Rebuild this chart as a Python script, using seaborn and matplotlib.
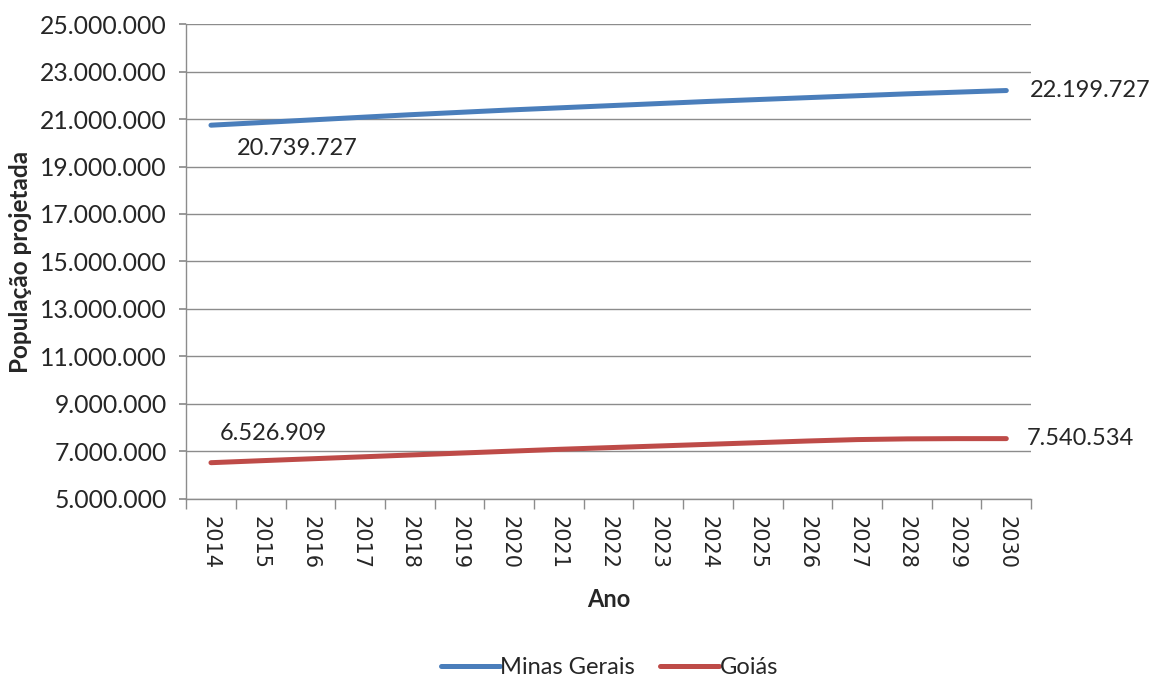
import matplotlib.pyplot as plt
import seaborn as sns
import pandas as pd
from matplotlib.ticker import FuncFormatter

# dados (valores intermediarios estimados)
anos = list(range(2014, 2031))
minas_gerais = [20739727, 20850000, 20960000, 21070000, 21180000, 21280000,
                21380000, 21470000, 21560000, 21650000, 21740000, 21820000,
                21900000, 21980000, 22060000, 22130000, 22199727]
goias = [6526909, 6610000, 6690000, 6770000, 6850000, 6930000, 7010000,
         7090000, 7160000, 7230000, 7300000, 7370000, 7440000, 7500000,
         7530000, 7540000, 7540534]
series = ['Minas Gerais', 'Goiás']
cores = {'Minas Gerais': '#4A7EBB', 'Goiás': '#BE4B48'}

df = pd.DataFrame({'Ano': anos * 2,
                   'Populacao': minas_gerais + goias,
                   'Estado': [series[0]] * len(anos) + [series[1]] * len(anos)})

sns.set_theme(style='white')
plt.rcParams['font.family'] = ['Lato', 'DejaVu Sans']

fig = plt.figure(figsize=(11.56, 6.77), dpi=100)
ax = fig.add_axes([0.161, 0.263, 0.731, 0.7015])

sns.lineplot(data=df, x='Ano', y='Populacao', hue='Estado', palette=cores,
             linewidth=3.6, ax=ax, legend=False)
for ln in ax.get_lines():
    ln.set_solid_capstyle('round')

ax.set_xlim(2013.5, 2030.5)
ax.set_ylim(5000000, 25000000)
ax.set_yticks(range(5000000, 25000001, 2000000))
ax.yaxis.set_major_formatter(FuncFormatter(lambda v, p: f'{int(v):,}'.replace(',', '.')))
ax.grid(axis='y', color='#8c8c8c', linewidth=1)
ax.set_axisbelow(True)

ax.set_xticks(anos)
ax.set_xticklabels([str(a) for a in anos], rotation=270, fontsize=15,
                   family='DejaVu Sans')
ax.set_xticks([a - 0.5 for a in anos] + [2030.5], minor=True)
ax.tick_params(axis='x', which='major', length=0, pad=12)
ax.tick_params(axis='x', which='minor', length=7, color='#8c8c8c', direction='out')
ax.tick_params(axis='y', length=5, color='#8c8c8c', direction='out', labelsize=17.8, pad=9)
ax.tick_params(axis='x', bottom=True, which='both')
ax.tick_params(axis='y', left=True)

for s in ['top', 'right']:
    ax.spines[s].set_visible(False)
for s in ['left', 'bottom']:
    ax.spines[s].set_color('#8c8c8c')
    ax.spines[s].set_linewidth(1)

ax.set_xlabel('Ano', fontsize=17, fontweight='bold', labelpad=14)
ax.set_ylabel('População projetada', fontsize=17.5, fontweight='bold', labelpad=6)

def fmt(v):
    return f'{v:,}'.replace(',', '.')

ax.annotate(fmt(minas_gerais[0]), (anos[0], minas_gerais[0]), xytext=(19, -17),
            textcoords='offset points', fontsize=17, va='center', ha='left')
ax.annotate(fmt(minas_gerais[-1]), (anos[-1], minas_gerais[-1]), xytext=(17, 0),
            textcoords='offset points', fontsize=17, va='center', ha='left')
ax.annotate(fmt(goias[0]), (anos[0], goias[0]), xytext=(6, 21),
            textcoords='offset points', fontsize=17, va='center', ha='left')
ax.annotate(fmt(goias[-1]), (anos[-1], goias[-1]), xytext=(15, 0),
            textcoords='offset points', fontsize=17, va='center', ha='left')

handles = [plt.Line2D([], [], color=cores[s], linewidth=3.6, solid_capstyle='round')
           for s in series]
fig.legend(handles, series, loc='lower center', bbox_to_anchor=(0.527, -0.033),
           ncol=2, frameon=False, fontsize=17, handlelength=2.5,
           handletextpad=0.0, columnspacing=1.1)

fig.savefig('out.png', dpi=100)
